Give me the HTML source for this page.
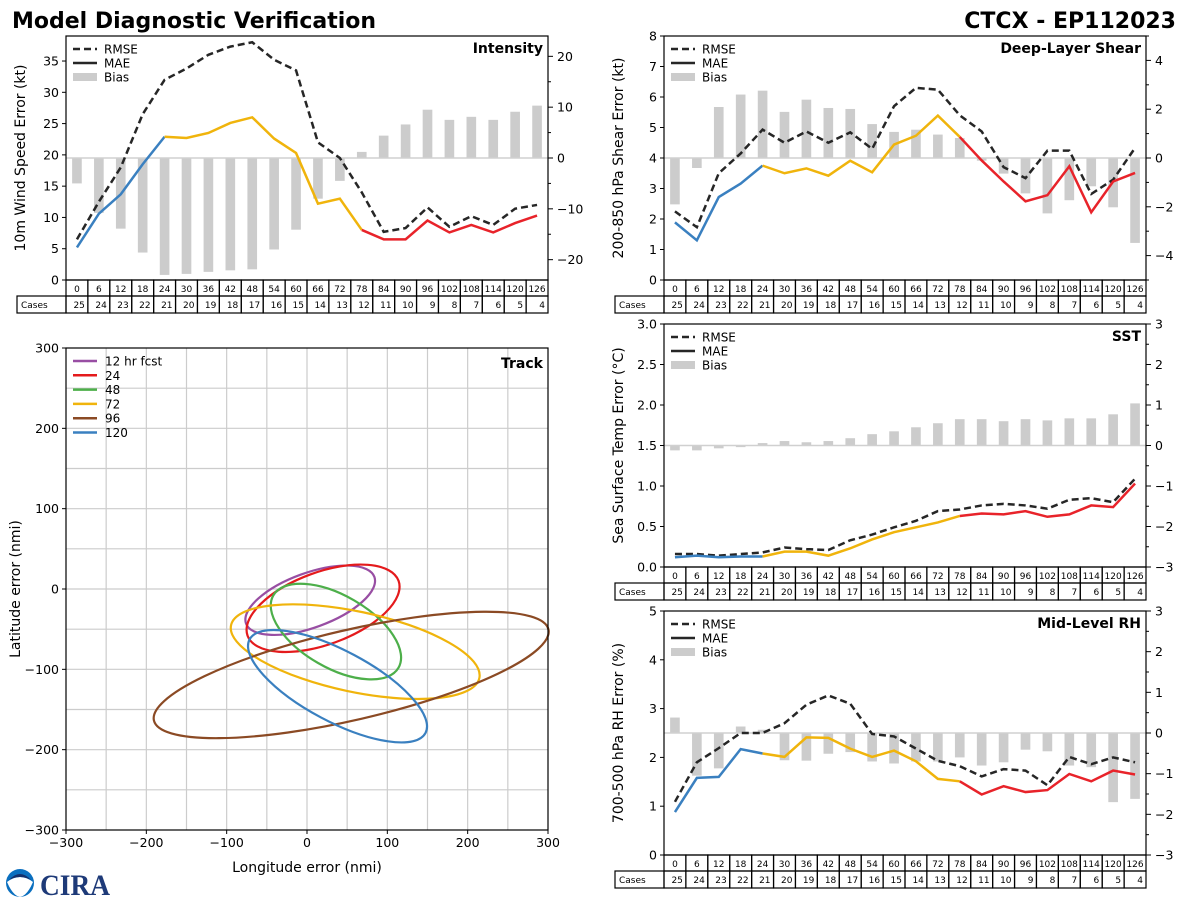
<!DOCTYPE html>
<html><head><meta charset="utf-8">
<style>
html,body{margin:0;padding:0;background:#fff;}
svg{display:block;font-family:"DejaVu Sans","Liberation Sans",sans-serif;}
</style></head>
<body>
<svg id="fig" width="1200" height="900" viewBox="0 0 1200 900" xmlns="http://www.w3.org/2000/svg">
<text x="12" y="28" font-size="22" font-weight="bold">Model Diagnostic Verification</text>
<text x="1176" y="28" font-size="22" font-weight="bold" text-anchor="end">CTCX - EP112023</text>
<g>
<circle cx="20" cy="883" r="14" fill="#0a6fbf"/>
<path d="M7,882 Q20,872 33,882 Q27,896 20,897 Q13,896 7,882Z" fill="#fff"/>
<path d="M9,880 Q20,868 31,880 Q20,874 9,880Z" fill="#14306b"/>
<text x="40" y="895" font-size="30" font-weight="bold" font-family="Liberation Serif,serif" fill="#1e3a78" textLength="70" lengthAdjust="spacingAndGlyphs">CIRA</text>
</g>
</svg>
<script>
const leads=[0,6,12,18,24,30,36,42,48,54,60,66,72,78,84,90,96,102,108,114,120,126];
const cases=[25,24,23,22,21,20,19,18,17,16,15,14,13,12,11,10,9,8,7,6,5,4];
const intRmse=[6.5,12.5,18,26.5,32,33.8,36,37.3,38,35.2,33.5,22,19.5,14,7.7,8.3,11.6,8.5,10.2,8.8,11.4,12];
const intMae=[5.2,10.6,13.7,18.5,22.9,22.7,23.5,25.1,26,22.6,20.3,12.2,13,8,6.5,6.5,9.5,7.6,8.8,7.6,9.1,10.3];
const intBias=[-5,-10.8,-13.9,-18.6,-23,-22.8,-22.4,-22.1,-21.9,-18,-14.1,-8,-4.5,1.2,4.4,6.6,9.5,7.5,8.1,7.5,9.1,10.3];
const shrRmse=[2.25,1.73,3.5,4.15,4.93,4.5,4.87,4.5,4.84,4.3,5.7,6.3,6.24,5.4,4.87,3.7,3.34,4.24,4.24,2.82,3.29,4.33];
const shrMae=[1.89,1.3,2.72,3.16,3.75,3.5,3.66,3.42,3.91,3.53,4.44,4.73,5.39,4.69,3.92,3.23,2.58,2.78,3.73,2.22,3.23,3.51];
const shrBias=[-1.9,-0.41,2.09,2.6,2.76,1.89,2.39,2.05,2.01,1.39,1.07,1.16,0.96,0.82,-0.11,-0.64,-1.45,-2.27,-1.73,-1.16,-2.02,-3.48];
const sstRmse=[0.16,0.16,0.14,0.16,0.18,0.24,0.22,0.21,0.33,0.4,0.49,0.57,0.69,0.71,0.76,0.78,0.76,0.72,0.83,0.85,0.8,1.09];
const sstMae=[0.12,0.14,0.12,0.13,0.13,0.19,0.19,0.14,0.23,0.34,0.43,0.49,0.55,0.63,0.66,0.65,0.69,0.62,0.65,0.76,0.74,1.03];
const sstBias=[-0.12,-0.12,-0.07,-0.04,0.06,0.11,0.08,0.11,0.18,0.28,0.35,0.45,0.55,0.65,0.65,0.6,0.65,0.62,0.67,0.67,0.77,1.04];
const rhRmse=[1.09,1.9,2.19,2.5,2.5,2.7,3.08,3.27,3.1,2.48,2.43,2.18,1.93,1.82,1.61,1.76,1.73,1.43,2.01,1.86,2.0,1.9];
const rhMae=[0.88,1.58,1.6,2.17,2.08,2.01,2.41,2.4,2.18,2.01,2.14,1.92,1.56,1.51,1.24,1.41,1.29,1.33,1.66,1.51,1.73,1.65];
const rhBias=[0.38,-1.05,-0.87,0.16,0.08,-0.67,-0.68,-0.51,-0.47,-0.7,-0.75,-0.7,-0.7,-0.6,-0.8,-0.72,-0.41,-0.45,-0.8,-0.84,-1.7,-1.62];
const trackLabels=["12 hr fcst","24","48","72","96","120"];
const trackCx=[4,20,36,60,55,38];
const trackCy=[-14,-24,-53,-78,-107,-121];
const trackA=[85,100,90,158,252,124];
const trackB=[34,45,45,50,56,44];
const trackAng=[20,20,-30,-12,13,-28];
const trackTicks=[-300,-200,-100,0,100,200,300];

const NS="http://www.w3.org/2000/svg";
const fig=document.getElementById('fig');
function mk(tag,attrs,parent,txt){const e=document.createElementNS(NS,tag);for(const k in attrs)e.setAttribute(k,attrs[k]);if(txt!==undefined)e.textContent=txt;(parent||fig).appendChild(e);return e;}
function fmt(v,d){const s=Math.abs(v).toFixed(d);return (v<0?'\u2212':'')+s;}
const segColors=['#3a80c0','#f0b40c','#e8232a'];

function panel(p){
  const g=mk('g',{});
  
  
  const n=leads.length, cw=(p.x1-p.x0)/n;
  const X=i=>p.x0+(i+0.5)*cw;
  const Y=v=>p.y1-(v/p.ymax)*(p.y1-p.y0);
  const R=v=>(p.y0+p.y1)/2-(v/p.rmax)*(p.y1-p.y0)/2;
  p.bias.forEach((b,i)=>{
    const r=mk('rect',{x:X(i)-cw*0.22,y:Math.min(R(b),R(0)),width:cw*0.44,height:Math.abs(R(b)-R(0)),fill:'#cccccc'},g);
    
    
  });
  const z=mk('line',{x1:p.x0,x2:p.x1,y1:R(0),y2:R(0),stroke:'#d0d0d0','stroke-width':1.5},g);
  
  
  const rm=mk('polyline',{points:p.rmse.map((v,i)=>X(i)+','+Y(v)).join(' '),fill:'none',stroke:'#262626','stroke-width':2.5,'stroke-dasharray':'7,4'},g);
  
  
  const segs=[[0,4],[4,13],[13,n-1]];
  segs.forEach((s,k)=>{
    const pts=[];for(let i=s[0];i<=s[1];i++)pts.push(X(i)+','+Y(p.mae[i]));
    const l=mk('polyline',{points:pts.join(' '),fill:'none',stroke:segColors[k],'stroke-width':2.5},g);
    
    
  });
  mk('rect',{x:p.x0,y:p.y0,width:p.x1-p.x0,height:p.y1-p.y0,fill:'none',stroke:'#000','stroke-width':1.2},g);
  p.lticks.forEach(v=>{
    mk('line',{x1:p.x0-4,x2:p.x0,y1:Y(v),y2:Y(v),stroke:'#000'},g);
    mk('text',{x:p.x0-7,y:Y(v)+4.5,'font-size':12.5,'text-anchor':'end'},g,fmt(v,p.ld));
  });
  p.rminor.forEach(v=>mk('line',{x1:p.x1,x2:p.x1+3,y1:R(v),y2:R(v),stroke:'#000'},g));
  p.rticks.forEach(v=>{
    mk('line',{x1:p.x1,x2:p.x1+5,y1:R(v),y2:R(v),stroke:'#000'},g);
    mk('text',{x:p.x1+9,y:R(v)+4.5,'font-size':12.5},g,fmt(v,0));
  });
  const yl=mk('text',{x:0,y:0,'font-size':14,'text-anchor':'middle',transform:`translate(${p.x0-41},${(p.y0+p.y1)/2}) rotate(-90)`},g,p.ylabel);
  
  
  const t=mk('text',{x:p.x1-5,y:p.y0+17,'font-size':14,'font-weight':'bold','text-anchor':'end'},g,p.title);
  
  
  const lg=mk('g',{},g);
  
  
  const lx=p.x0+7, ly=p.y0+13;
  mk('line',{x1:lx,x2:lx+24,y1:ly,y2:ly,stroke:'#262626','stroke-width':2.5,'stroke-dasharray':'7,4'},lg);
  mk('text',{x:lx+31,y:ly+4.5,'font-size':12},lg,'RMSE');
  mk('line',{x1:lx,x2:lx+24,y1:ly+14,y2:ly+14,stroke:'#262626','stroke-width':2.5},lg);
  mk('text',{x:lx+31,y:ly+18.5,'font-size':12},lg,'MAE');
  mk('rect',{x:lx,y:ly+24,width:24,height:8,fill:'#cccccc'},lg);
  mk('text',{x:lx+31,y:ly+32.5,'font-size':12},lg,'Bias');
  const tb=mk('g',{},g);
  
  
  const ty=p.y1, h1=16, h2=17;
  for(let i=0;i<n;i++){
    const cx=p.x0+i*cw;
    mk('rect',{x:cx,y:ty,width:cw,height:h1,fill:'none',stroke:'#000','stroke-width':1.2},tb);
    mk('rect',{x:cx,y:ty+h1,width:cw,height:h2,fill:'none',stroke:'#000','stroke-width':1.2},tb);
    mk('text',{x:cx+cw/2,y:ty+12,'font-size':9,'text-anchor':'middle'},tb,String(leads[i]));
    mk('text',{x:cx+cw-3,y:ty+h1+12,'font-size':9,'text-anchor':'end'},tb,String(cases[i]));
  }
  mk('rect',{x:p.x0-49,y:ty+h1,width:49,height:h2,fill:'none',stroke:'#000','stroke-width':1.2},tb);
  mk('text',{x:p.x0-45,y:ty+h1+12,'font-size':9},tb,'Cases');
}

panel({name:'intensity',x0:66,x1:548,y0:36,y1:280,ymax:39,rmax:24,lticks:[0,5,10,15,20,25,30,35],ld:0,rticks:[-20,-10,0,10,20],rminor:[-15,-5,5,15],rmse:intRmse,mae:intMae,bias:intBias,title:'Intensity',ylabel:'10m Wind Speed Error (kt)'});
panel({name:'shear',x0:664,x1:1146,y0:36,y1:280,ymax:8,rmax:5,lticks:[0,1,2,3,4,5,6,7,8],ld:0,rticks:[-4,-2,0,2,4],rminor:[-5,-3,-1,1,3,5],rmse:shrRmse,mae:shrMae,bias:shrBias,title:'Deep-Layer Shear',ylabel:'200-850 hPa Shear Error (kt)'});
panel({name:'sst',x0:664,x1:1146,y0:324,y1:567,ymax:3,rmax:3,lticks:[0,0.5,1,1.5,2,2.5,3],ld:1,rticks:[-3,-2,-1,0,1,2,3],rminor:[-2.5,-1.5,-0.5,0.5,1.5,2.5],rmse:sstRmse,mae:sstMae,bias:sstBias,title:'SST',ylabel:'Sea Surface Temp Error (\u00B0C)'});
panel({name:'rh',x0:664,x1:1146,y0:611,y1:855,ymax:5,rmax:3,lticks:[0,1,2,3,4,5],ld:0,rticks:[-3,-2,-1,0,1,2,3],rminor:[-2.5,-1.5,-0.5,0.5,1.5,2.5],rmse:rhRmse,mae:rhMae,bias:rhBias,title:'Mid-Level RH',ylabel:'700-500 hPa RH Error (%)'});

(function(){
  const x0=66,x1=548,y0=348,y1=830;
  const TX=v=>x0+(v+300)/600*(x1-x0);
  const TY=v=>y1-(v+300)/600*(y1-y0);
  const g=mk('g',{});
  
  
  for(let v=-250;v<300;v+=50){
    mk('line',{x1:TX(v),x2:TX(v),y1:y0,y2:y1,stroke:'#cccccc','stroke-width':1.2},g);
    mk('line',{x1:x0,x2:x1,y1:TY(v),y2:TY(v),stroke:'#cccccc','stroke-width':1.2},g);
  }
  const colors=['#984ea3','#e41a1c','#4daf4a','#f0b40c','#8b4a24','#3a80c0'];
  const sx=(x1-x0)/600, sy=(y1-y0)/600;
  trackLabels.forEach((lab,i)=>{
    const e=mk('ellipse',{cx:TX(trackCx[i]),cy:TY(trackCy[i]),rx:trackA[i]*sx,ry:trackB[i]*sy,fill:'none',stroke:colors[i],'stroke-width':2.2,transform:`rotate(${-trackAng[i]} ${TX(trackCx[i])} ${TY(trackCy[i])})`},g);
    
    
    mk('line',{x1:73,x2:97,y1:361+i*14.3,y2:361+i*14.3,stroke:colors[i],'stroke-width':2.5},g);
    mk('text',{x:105,y:365.5+i*14.3,'font-size':12},g,lab);
  });
  mk('rect',{x:x0,y:y0,width:x1-x0,height:y1-y0,fill:'none',stroke:'#000','stroke-width':1.2},g);
  trackTicks.forEach(v=>{
    mk('line',{x1:TX(v),x2:TX(v),y1:y1,y2:y1+4,stroke:'#000'},g);
    mk('text',{x:TX(v),y:y1+17,'font-size':12.5,'text-anchor':'middle'},g,fmt(v,0));
    mk('line',{x1:x0-4,x2:x0,y1:TY(v),y2:TY(v),stroke:'#000'},g);
    mk('text',{x:x0-7,y:TY(v)+4.5,'font-size':12.5,'text-anchor':'end'},g,fmt(v,0));
  });
  const xt=mk('text',{x:(x0+x1)/2,y:872,'font-size':14,'text-anchor':'middle'},g,'Longitude error (nmi)');
  
  
  const yt=mk('text',{x:0,y:0,'font-size':14,'text-anchor':'middle',transform:`translate(20,${(y0+y1)/2}) rotate(-90)`},g,'Latitude error (nmi)');
  
  
  mk('text',{x:x1-5,y:y0+20,'font-size':14,'font-weight':'bold','text-anchor':'end'},g,'Track');
})();
</script>
</body></html>
